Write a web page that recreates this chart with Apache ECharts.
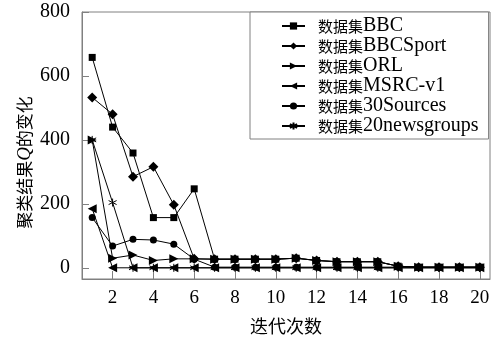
<!DOCTYPE html>
<html><head><meta charset="utf-8">
<script src="https://cdn.jsdelivr.net/npm/echarts@6/dist/echarts.min.js"></script>
<style>html,body{margin:0;padding:0;background:#fff}#c{width:496px;height:342px}</style>
</head><body><div id="c"></div>
<script>
var iterations = [1,2,3,4,5,6,7,8,9,10,11,12,13,14,15,16,17,18,19,20];
var seriesNames = ['BBC','BBCSport','ORL','MSRC-v1','30Sources','20newsgroups'];
var bbc        = [658,440,359,157,157,247,27,27,27,27,30,23,19,19,19,5,2,2,2,2];
var bbcSport   = [533,480,285,316,197,28,27,27,27,27,30,23,19,19,19,5,2,2,2,2];
var orl        = [400,30,40,23,28,28,27,27,27,27,30,23,19,19,19,5,2,2,2,2];
var msrc       = [185,0,0,0,0,0,0,0,0,0,0,0,0,0,0,0,0,0,0,0];
var sources30  = [157,68,89,87,74,27,2,2,2,2,2,2,2,2,2,2,2,2,2,2];
var news20     = [400,204,0,0,0,0,0,0,0,0,0,0,0,0,0,0,0,0,0,0];
var xTicks = [2,4,6,8,10,12,14,16,18,20];
var yTicks = [0,200,400,600,800];

var LAT = 'Liberation Serif';
var CJK = 'Noto Sans CJK SC';
function pairs(arr){ return iterations.map(function(x,i){ return [x, arr[i]]; }); }
var asterisk = 'path://M5,0L5,10M0.7,2.5L9.3,7.5M0.7,7.5L9.3,2.5';
var defs = [
  {d:bbc, sym:'rect', size:7, rot:0},
  {d:bbcSport, sym:'diamond', size:10, rot:0},
  {d:orl, sym:'triangle', size:9, rot:-90},
  {d:msrc, sym:'triangle', size:9, rot:90},
  {d:sources30, sym:'circle', size:7, rot:0},
  {d:news20, sym:asterisk, size:8, rot:0}
];
var series = defs.map(function(s,i){
  var o = {
    name: '数据集' + seriesNames[i], type:'line', data: pairs(s.d),
    symbol: s.sym, symbolSize: s.size, symbolRotate: s.rot,
    lineStyle:{color:'#000', width:1},
    itemStyle:{color:'#000'},
    animation:false
  };
  if (s.sym === asterisk) { o.itemStyle = {color:'#000', borderColor:'#000', borderWidth:1}; }
  return o;
});

var chart = echarts.init(document.getElementById('c'));
chart.setOption({
  backgroundColor:'#fff',
  animation:false,
  grid:{left:82, right:6, top:12, bottom:63, show:true, borderColor:'#808080', borderWidth:1},
  legend:{
    orient:'vertical', left:250, top:12,
    padding:[4,10,3,31], itemGap:0,
    itemWidth:23, itemHeight:9,
    borderColor:'#808080', borderWidth:1, backgroundColor:'#fff',
    data: series.map(function(s){ return s.name; }),
    formatter:function(n){ return '{c|数据集}{l|' + n.slice(3) + '}'; },
    textStyle:{
      padding:[0,0,0,8],
      rich:{
        c:{fontFamily:CJK, fontSize:15, color:'#000', lineHeight:20},
        l:{fontFamily:LAT, fontSize:20, color:'#000', lineHeight:20}
      }
    }
  },
  xAxis:{
    type:'value', min:0.5, max:20.5,
    name:'迭代次数', nameLocation:'middle', nameGap:38, nameMoveOverlap:false,
    nameTextStyle:{fontFamily:CJK, fontSize:18, color:'#000'},
    axisLine:{show:true, onZero:false, lineStyle:{color:'#808080'}},
    axisTick:{show:true, inside:true, length:8, customValues:xTicks, lineStyle:{color:'#808080'}},
    axisLabel:{customValues:xTicks, margin:10, fontFamily:LAT, fontSize:19, color:'#000'},
    splitLine:{show:false}
  },
  yAxis:{
    type:'value', min:-35, max:800,
    name:'{c|聚类结果}{q|Q}{c|的变化}', nameLocation:'middle', nameGap:48, nameRotate:90,
    nameMoveOverlap:false,
    nameTextStyle:{padding:[0,34,0,0], rich:{
      c:{fontFamily:CJK, fontSize:17, color:'#000'},
      q:{fontFamily:LAT, fontSize:19, fontStyle:'italic', color:'#000'}
    }},
    axisLine:{show:true, onZero:false, lineStyle:{color:'#808080'}},
    axisTick:{show:true, inside:true, length:7, customValues:yTicks, lineStyle:{color:'#808080'}},
    axisLabel:{customValues:yTicks, margin:12, fontFamily:LAT, fontSize:20, color:'#000'},
    splitLine:{show:false}
  },
  series: series
});
</script>
</body></html>
